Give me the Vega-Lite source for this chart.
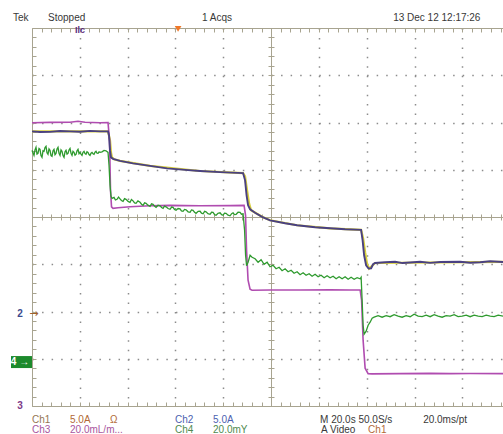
{
  "$schema": "https://vega.github.io/schema/vega-lite/v6.json",
  "width": 471,
  "height": 378,
  "autosize": {"type": "none"},
  "padding": {"left": 32, "top": 28, "right": 0, "bottom": 28},
  "background": "white",
  "config": {
    "view": {"stroke": null},
    "axis": {"labels": false, "domainColor": "#a8a490", "tickColor": "#a8a490", "gridColor": "#8c8c8c", "tickWidth": 1, "domainWidth": 1, "gridWidth": 1.5}
  },
  "resolve": {"axis": {"x": "independent", "y": "independent"}},
  "datasets": {
    "ch1": [
      {"t":0,"v":1.812},{"t":31.8,"v":1.812},{"t":32.64,"v":1.621},{"t":33.05,"v":1.368},{"t":33.47,"v":1.262},{"t":34.31,"v":1.22},{"t":36.82,"v":1.188},{"t":49.37,"v":1.082},{"t":70.29,"v":0.973},{"t":88.28,"v":0.93},{"t":89.12,"v":0.86},{"t":89.96,"v":0.565},{"t":90.79,"v":0.29},{"t":91.63,"v":0.142},{"t":96.23,"v":0.004},{"t":99.58,"v":-0.07},{"t":110.88,"v":-0.175},{"t":124.69,"v":-0.239},{"t":137.65,"v":-0.271},{"t":138.49,"v":-0.45},{"t":139.33,"v":-0.744},{"t":140.17,"v":-0.998},{"t":141.0,"v":-1.091},{"t":143.51,"v":-0.973},{"t":197,"v":-0.951}
    ],
    "ch2": [
      {"t":0,"v":1.812},{"t":3.35,"v":1.8},{"t":7.53,"v":1.801},{"t":11.72,"v":1.82},{"t":15.9,"v":1.812},{"t":20.08,"v":1.803},{"t":24.27,"v":1.822},{"t":28.45,"v":1.812},{"t":31.8,"v":1.812},{"t":32.22,"v":1.727},{"t":32.64,"v":1.41},{"t":33.05,"v":1.262},{"t":33.89,"v":1.23},{"t":36.82,"v":1.188},{"t":42.26,"v":1.135},{"t":49.37,"v":1.082},{"t":56.49,"v":1.03},{"t":64.02,"v":0.998},{"t":70.29,"v":0.973},{"t":78.66,"v":0.949},{"t":88.28,"v":0.93},{"t":89.12,"v":0.776},{"t":89.75,"v":0.459},{"t":90.37,"v":0.247},{"t":91.21,"v":0.163},{"t":93.3,"v":0.089},{"t":96.23,"v":0.004},{"t":99.58,"v":-0.07},{"t":105.86,"v":-0.133},{"t":110.88,"v":-0.175},{"t":118.41,"v":-0.218},{"t":124.69,"v":-0.239},{"t":130.96,"v":-0.26},{"t":137.65,"v":-0.271},{"t":138.28,"v":-0.493},{"t":138.91,"v":-0.81},{"t":139.74,"v":-1.021},{"t":140.79,"v":-1.091},{"t":141.84,"v":-1.085},{"t":142.67,"v":-1.0},{"t":143.51,"v":-0.973},{"t":147.69,"v":-0.958},{"t":151.88,"v":-0.947},{"t":155.0,"v":-0.975},{"t":158.16,"v":-0.964},{"t":162.34,"v":-0.947},{"t":166.5,"v":-0.97},{"t":170.71,"v":-0.953},{"t":179.08,"v":-0.947},{"t":183.3,"v":-0.968},{"t":187.44,"v":-0.958},{"t":191.63,"v":-0.937},{"t":197,"v":-0.951}
    ],
    "ch3": [
      {"t":0,"v":1.996},{"t":7.53,"v":2.002},{"t":15.9,"v":2.006},{"t":19.25,"v":2.027},{"t":22.18,"v":2.006},{"t":28.45,"v":1.996},{"t":31.8,"v":1.998},{"t":32.43,"v":1.621},{"t":32.84,"v":0.564},{"t":33.26,"v":0.216},{"t":33.89,"v":0.184},{"t":35.98,"v":0.195},{"t":41.0,"v":0.216},{"t":49.37,"v":0.237},{"t":57.74,"v":0.247},{"t":70.29,"v":0.237},{"t":82.84,"v":0.241},{"t":88.7,"v":0.247},{"t":89.32,"v":0.036},{"t":89.74,"v":-0.704},{"t":90.37,"v":-1.338},{"t":91.21,"v":-1.529},{"t":92.05,"v":-1.55},{"t":99.58,"v":-1.546},{"t":112.13,"v":-1.544},{"t":124.69,"v":-1.539},{"t":133.05,"v":-1.546},{"t":137.24,"v":-1.544},{"t":137.86,"v":-1.761},{"t":138.49,"v":-2.607},{"t":139.33,"v":-3.199},{"t":140.58,"v":-3.315},{"t":142.25,"v":-3.321},{"t":153.97,"v":-3.315},{"t":166.52,"v":-3.309},{"t":174.89,"v":-3.315},{"t":183.26,"v":-3.311},{"t":197,"v":-3.315}
    ],
    "ch4": [
      {"t":0,"v":1.41},{"t":0.42,"v":1.36},{"t":0.84,"v":1.304},{"t":1.25,"v":1.42},{"t":1.67,"v":1.474},{"t":2.09,"v":1.33},{"t":2.51,"v":1.347},{"t":2.93,"v":1.45},{"t":3.35,"v":1.431},{"t":3.76,"v":1.3},{"t":4.18,"v":1.262},{"t":4.6,"v":1.4},{"t":5.02,"v":1.389},{"t":5.44,"v":1.47},{"t":5.86,"v":1.495},{"t":6.27,"v":1.36},{"t":6.69,"v":1.326},{"t":7.11,"v":1.44},{"t":7.53,"v":1.41},{"t":7.95,"v":1.3},{"t":8.37,"v":1.283},{"t":8.79,"v":1.4},{"t":9.21,"v":1.431},{"t":9.62,"v":1.32},{"t":10.04,"v":1.347},{"t":10.46,"v":1.44},{"t":10.88,"v":1.474},{"t":11.3,"v":1.35},{"t":11.72,"v":1.304},{"t":12.13,"v":1.42},{"t":12.55,"v":1.389},{"t":12.97,"v":1.3},{"t":13.39,"v":1.262},{"t":13.81,"v":1.38},{"t":14.23,"v":1.41},{"t":14.64,"v":1.33},{"t":15.06,"v":1.347},{"t":15.48,"v":1.42},{"t":15.9,"v":1.452},{"t":16.32,"v":1.35},{"t":16.74,"v":1.304},{"t":17.15,"v":1.39},{"t":17.57,"v":1.368},{"t":17.99,"v":1.31},{"t":18.41,"v":1.326},{"t":18.83,"v":1.4},{"t":19.25,"v":1.431},{"t":19.67,"v":1.34},{"t":20.08,"v":1.368},{"t":20.5,"v":1.33},{"t":20.92,"v":1.304},{"t":21.34,"v":1.37},{"t":21.76,"v":1.389},{"t":22.18,"v":1.34},{"t":22.59,"v":1.326},{"t":23.01,"v":1.38},{"t":23.43,"v":1.368},{"t":23.85,"v":1.32},{"t":24.27,"v":1.304},{"t":24.69,"v":1.35},{"t":25.1,"v":1.368},{"t":25.52,"v":1.34},{"t":25.94,"v":1.326},{"t":26.36,"v":1.37},{"t":26.78,"v":1.389},{"t":27.2,"v":1.35},{"t":27.62,"v":1.347},{"t":28.04,"v":1.38},{"t":28.45,"v":1.368},{"t":29.29,"v":1.378},{"t":30.13,"v":1.41},{"t":30.96,"v":1.4},{"t":31.8,"v":1.368},{"t":32.22,"v":1.093},{"t":32.64,"v":0.67},{"t":33.05,"v":0.438},{"t":33.47,"v":0.395},{"t":34.31,"v":0.416},{"t":34.9,"v":0.36},{"t":35.56,"v":0.374},{"t":36.2,"v":0.42},{"t":36.82,"v":0.385},{"t":37.4,"v":0.35},{"t":38.08,"v":0.332},{"t":38.7,"v":0.39},{"t":39.33,"v":0.374},{"t":40.2,"v":0.33},{"t":41.0,"v":0.311},{"t":41.6,"v":0.37},{"t":42.26,"v":0.342},{"t":42.9,"v":0.3},{"t":43.51,"v":0.29},{"t":44.3,"v":0.34},{"t":45.19,"v":0.311},{"t":45.8,"v":0.27},{"t":46.44,"v":0.247},{"t":47.1,"v":0.3},{"t":47.7,"v":0.29},{"t":48.5,"v":0.25},{"t":49.37,"v":0.226},{"t":50.0,"v":0.28},{"t":50.63,"v":0.269},{"t":51.2,"v":0.23},{"t":51.88,"v":0.205},{"t":52.7,"v":0.25},{"t":53.56,"v":0.237},{"t":54.2,"v":0.2},{"t":54.81,"v":0.184},{"t":55.4,"v":0.23},{"t":56.07,"v":0.216},{"t":56.9,"v":0.18},{"t":57.74,"v":0.163},{"t":58.4,"v":0.21},{"t":59.0,"v":0.205},{"t":59.6,"v":0.16},{"t":60.25,"v":0.142},{"t":61.1,"v":0.18},{"t":61.92,"v":0.173},{"t":62.5,"v":0.13},{"t":63.18,"v":0.121},{"t":63.8,"v":0.16},{"t":64.44,"v":0.152},{"t":65.3,"v":0.11},{"t":66.11,"v":0.099},{"t":66.7,"v":0.15},{"t":67.36,"v":0.142},{"t":68.0,"v":0.1},{"t":68.62,"v":0.078},{"t":69.5,"v":0.12},{"t":70.29,"v":0.121},{"t":70.9,"v":0.08},{"t":71.55,"v":0.068},{"t":72.2,"v":0.12},{"t":72.8,"v":0.11},{"t":73.6,"v":0.07},{"t":74.48,"v":0.057},{"t":75.1,"v":0.1},{"t":75.73,"v":0.099},{"t":76.4,"v":0.05},{"t":76.99,"v":0.036},{"t":77.8,"v":0.08},{"t":78.66,"v":0.089},{"t":79.3,"v":0.05},{"t":79.92,"v":0.036},{"t":80.5,"v":0.08},{"t":81.17,"v":0.078},{"t":82.0,"v":0.04},{"t":82.84,"v":0.025},{"t":83.5,"v":0.07},{"t":84.1,"v":0.089},{"t":84.7,"v":0.05},{"t":85.36,"v":0.057},{"t":86.2,"v":0.1},{"t":87.03,"v":0.099},{"t":87.6,"v":0.06},{"t":88.28,"v":0.068},{"t":88.91,"v":-0.281},{"t":89.33,"v":-0.81},{"t":89.75,"v":-1.032},{"t":90.38,"v":-0.958},{"t":91.21,"v":-0.81},{"t":92.05,"v":-0.852},{"t":93.31,"v":-0.884},{"t":94.56,"v":-0.958},{"t":95.82,"v":-0.905},{"t":97.08,"v":-1.0},{"t":98.33,"v":-0.958},{"t":99.58,"v":-1.053},{"t":100.84,"v":-1.021},{"t":102.09,"v":-1.095},{"t":103.35,"v":-1.063},{"t":104.6,"v":-1.137},{"t":105.86,"v":-1.095},{"t":107.11,"v":-1.159},{"t":108.37,"v":-1.127},{"t":109.62,"v":-1.19},{"t":110.88,"v":-1.159},{"t":112.13,"v":-1.222},{"t":113.39,"v":-1.18},{"t":114.64,"v":-1.233},{"t":115.9,"v":-1.201},{"t":117.15,"v":-1.254},{"t":118.41,"v":-1.211},{"t":119.67,"v":-1.264},{"t":120.92,"v":-1.233},{"t":122.18,"v":-1.285},{"t":123.43,"v":-1.243},{"t":124.69,"v":-1.285},{"t":125.94,"v":-1.254},{"t":127.2,"v":-1.307},{"t":128.45,"v":-1.264},{"t":129.71,"v":-1.307},{"t":130.96,"v":-1.264},{"t":132.22,"v":-1.317},{"t":133.47,"v":-1.275},{"t":134.73,"v":-1.317},{"t":135.98,"v":-1.285},{"t":137.24,"v":-1.307},{"t":137.66,"v":-1.275},{"t":138.08,"v":-1.761},{"t":138.49,"v":-2.29},{"t":138.91,"v":-2.48},{"t":139.75,"v":-2.417},{"t":140.59,"v":-2.29},{"t":141.42,"v":-2.226},{"t":142.26,"v":-2.142},{"t":143.1,"v":-2.121},{"t":144.77,"v":-2.089},{"t":146.44,"v":-2.121},{"t":148.12,"v":-2.089},{"t":149.79,"v":-2.11},{"t":151.46,"v":-2.068},{"t":153.14,"v":-2.099},{"t":154.81,"v":-2.121},{"t":156.49,"v":-2.089},{"t":158.16,"v":-2.11},{"t":159.83,"v":-2.057},{"t":161.51,"v":-2.099},{"t":163.18,"v":-2.11},{"t":164.85,"v":-2.078},{"t":166.53,"v":-2.11},{"t":168.2,"v":-2.068},{"t":169.87,"v":-2.099},{"t":171.55,"v":-2.121},{"t":173.22,"v":-2.089},{"t":174.9,"v":-2.099},{"t":176.57,"v":-2.068},{"t":178.24,"v":-2.11},{"t":179.92,"v":-2.099},{"t":181.59,"v":-2.078},{"t":183.26,"v":-2.11},{"t":184.94,"v":-2.078},{"t":186.61,"v":-2.099},{"t":188.28,"v":-2.11},{"t":189.96,"v":-2.078},{"t":191.63,"v":-2.099},{"t":193.3,"v":-2.11},{"t":194.98,"v":-2.078},{"t":197,"v":-2.099}
    ],
    "labels": [
      {"txt":"Tek","t":-7.95,"v":4.22,"c":"sys"},
      {"txt":"Stopped","t":6.69,"v":4.22,"c":"sys"},
      {"txt":"1 Acqs","t":71.13,"v":4.22,"c":"sys"},
      {"txt":"13 Dec 12 12:17:26","t":151.05,"v":4.22,"c":"sys"},
      {"txt":"Ch1","t":0,"v":-4.3,"c":"ch1"},
      {"txt":"5.0A","t":15.9,"v":-4.3,"c":"ch1v"},
      {"txt":"Ω","t":32.64,"v":-4.3,"c":"ch1v"},
      {"txt":"Ch2","t":59.83,"v":-4.3,"c":"ch2"},
      {"txt":"5.0A","t":75.73,"v":-4.3,"c":"ch2"},
      {"txt":"M 20.0s 50.0S/s","t":120.5,"v":-4.3,"c":"sys"},
      {"txt":"20.0ms/pt","t":163.6,"v":-4.3,"c":"sys"},
      {"txt":"Ch3","t":0,"v":-4.51,"c":"ch3"},
      {"txt":"20.0mL/m...","t":15.9,"v":-4.51,"c":"ch3"},
      {"txt":"Ch4","t":59.83,"v":-4.51,"c":"ch4"},
      {"txt":"20.0mY","t":75.73,"v":-4.51,"c":"ch4"},
      {"txt":"A Video","t":120.92,"v":-4.51,"c":"sys"},
      {"txt":"Ch1","t":140.58,"v":-4.51,"c":"ch1v"}
    ],
    "levels": [
      {"ch":"2","level":-2.05,"label":"2","c":"m2"},
      {"ch":"4","level":-3.07,"label":"4 →","c":"white"},
      {"ch":"3","level":-4.0,"label":"3","c":"m3"}
    ],
    "refs": [
      {"kind":"time ref","t":18.0,"label":"Ilc"},
      {"kind":"trigger","t":61.1,"label":""}
    ]
  },
  "layer": [
    {
      "data": {"name": "ch1"},
      "mark": {"type": "line", "color": "#d8cf3c", "strokeWidth": 2.2},
      "encoding": {
        "x": {"field": "t", "type": "quantitative", "scale": {"domain": [0, 197], "nice": false, "zero": false},
          "axis": {"orient": "bottom", "values": [20,40,60,80,120,140,160,180], "grid": true, "gridDash": [1.5, 7.95], "ticks": false, "labels": false, "domain": false, "title": null}},
        "y": {"field": "v", "type": "quantitative", "scale": {"domain": [-4, 4], "nice": false, "zero": false},
          "axis": {"orient": "left", "values": [-3,-2,-1,1,2,3], "grid": true, "gridDash": [1.5, 8.06], "ticks": false, "labels": false, "domain": false, "title": null}}
      }
    },
    {
      "data": {"name": "ch3"},
      "mark": {"type": "line", "color": "#b04cb0", "strokeWidth": 1.6},
      "encoding": {
        "x": {"field": "t", "type": "quantitative",
          "axis": {"orient": "bottom", "values": [0,4,8,12,16,20,24,28,32,36,40,44,48,52,56,60,64,68,72,76,80,84,88,92,96,100,104,108,112,116,120,124,128,132,136,140,144,148,152,156,160,164,168,172,176,180,184,188,192,196], "grid": false, "tickSize": -4, "labels": false, "domain": true, "title": null}},
        "y": {"field": "v", "type": "quantitative",
          "axis": {"orient": "left", "values": [-4,-3.8,-3.6,-3.4,-3.2,-3,-2.8,-2.6,-2.4,-2.2,-2,-1.8,-1.6,-1.4,-1.2,-1,-0.8,-0.6,-0.4,-0.2,0,0.2,0.4,0.6,0.8,1,1.2,1.4,1.6,1.8,2,2.2,2.4,2.6,2.8,3,3.2,3.4,3.6,3.8,4], "grid": false, "tickSize": -4, "labels": false, "domain": true, "title": null}}
      }
    },
    {
      "data": {"name": "ch4"},
      "mark": {"type": "line", "color": "#2e9a2e", "strokeWidth": 1.3},
      "encoding": {
        "x": {"field": "t", "type": "quantitative",
          "axis": {"orient": "top", "values": [0,4,8,12,16,20,24,28,32,36,40,44,48,52,56,60,64,68,72,76,80,84,88,92,96,100,104,108,112,116,120,124,128,132,136,140,144,148,152,156,160,164,168,172,176,180,184,188,192,196], "grid": false, "tickSize": -4, "labels": false, "domain": true, "title": null}},
        "y": {"field": "v", "type": "quantitative",
          "axis": {"orient": "left", "offset": -239, "values": [-4,-3.8,-3.6,-3.4,-3.2,-3,-2.8,-2.6,-2.4,-2.2,-2,-1.8,-1.6,-1.4,-1.2,-1,-0.8,-0.6,-0.4,-0.2,0,0.2,0.4,0.6,0.8,1,1.2,1.4,1.6,1.8,2,2.2,2.4,2.6,2.8,3,3.2,3.4,3.6,3.8,4], "grid": false, "tickSize": 3, "labels": false, "domain": true, "title": null}}
      }
    },
    {
      "data": {"name": "ch2"},
      "mark": {"type": "line", "color": "#4a4182", "strokeWidth": 1.9},
      "encoding": {
        "x": {"field": "t", "type": "quantitative",
          "axis": {"orient": "bottom", "offset": -189, "values": [0,4,8,12,16,20,24,28,32,36,40,44,48,52,56,60,64,68,72,76,80,84,88,92,96,100,104,108,112,116,120,124,128,132,136,140,144,148,152,156,160,164,168,172,176,180,184,188,192,196], "grid": false, "tickSize": 3, "labels": false, "domain": true, "title": null}},
        "y": {"field": "v", "type": "quantitative",
          "axis": {"orient": "left", "offset": -239, "values": [-4,-3.8,-3.6,-3.4,-3.2,-3,-2.8,-2.6,-2.4,-2.2,-2,-1.8,-1.6,-1.4,-1.2,-1,-0.8,-0.6,-0.4,-0.2,0,0.2,0.4,0.6,0.8,1,1.2,1.4,1.6,1.8,2,2.2,2.4,2.6,2.8,3,3.2,3.4,3.6,3.8,4], "grid": false, "tickSize": -3, "labels": false, "domain": false, "title": null}}
      }
    },
    {
      "data": {"name": "labels"},
      "mark": {"type": "text", "align": "left", "baseline": "middle", "font": "Liberation Sans", "fontSize": 10},
      "encoding": {
        "x": {"field": "t", "type": "quantitative",
          "axis": {"orient": "bottom", "offset": -189, "values": [0,4,8,12,16,20,24,28,32,36,40,44,48,52,56,60,64,68,72,76,80,84,88,92,96,100,104,108,112,116,120,124,128,132,136,140,144,148,152,156,160,164,168,172,176,180,184,188,192,196], "grid": false, "tickSize": -3, "labels": false, "domain": false, "title": null}},
        "y": {"field": "v", "type": "quantitative", "axis": null},
        "text": {"field": "txt"},
        "color": {"field": "c", "type": "nominal", "legend": null,
          "scale": {"domain": ["sys","ch1","ch1v","ch2","ch3","ch4","m2","m3","white"], "range": ["#383838","#957652","#b26a36","#4d5fb0","#a8559e","#4f8a4f","#3b4a8e","#7d3a88","#ffffff"]}}
      }
    },
    {
      "data": {"name": "levels"},
      "transform": [{"filter": "datum.ch === '4'"}],
      "mark": {"type": "point", "shape": "M-1.05,-0.6H1.05V0.6H-1.05Z", "filled": true, "opacity": 1, "color": "#1c8a2c", "size": 400},
      "encoding": {
        "x": {"datum": -4.4, "type": "quantitative", "axis": null},
        "y": {"field": "level", "type": "quantitative", "axis": null}
      }
    },
    {
      "data": {"name": "levels"},
      "mark": {"type": "text", "align": "center", "baseline": "middle", "font": "Liberation Sans", "fontSize": 10, "fontWeight": "bold"},
      "encoding": {
        "x": {"datum": -5, "type": "quantitative", "axis": null},
        "y": {"field": "level", "type": "quantitative", "axis": null},
        "text": {"field": "label"},
        "color": {"field": "c", "type": "nominal", "legend": null,
          "scale": {"domain": ["sys","ch1","ch1v","ch2","ch3","ch4","m2","m3","white"], "range": ["#383838","#957652","#b26a36","#4d5fb0","#a8559e","#4f8a4f","#3b4a8e","#7d3a88","#ffffff"]}}
      }
    },
    {
      "data": {"name": "levels"},
      "transform": [{"filter": "datum.ch === '2'"}],
      "mark": {"type": "text", "align": "center", "baseline": "middle", "font": "DejaVu Sans", "fontSize": 11, "color": "#a0602a", "text": "→"},
      "encoding": {
        "x": {"datum": 0.8, "type": "quantitative", "axis": null},
        "y": {"field": "level", "type": "quantitative", "axis": null}
      }
    },
    {
      "data": {"name": "refs"},
      "transform": [{"filter": "datum.kind === 'time ref'"}],
      "mark": {"type": "text", "align": "left", "baseline": "middle", "font": "Liberation Sans", "fontSize": 9, "fontWeight": "bold", "color": "#5b2d7a"},
      "encoding": {
        "x": {"field": "t", "type": "quantitative", "axis": null},
        "y": {"datum": 3.95, "type": "quantitative", "axis": null},
        "text": {"field": "label"}
      }
    },
    {
      "data": {"name": "refs"},
      "transform": [{"filter": "datum.kind === 'trigger'"}],
      "mark": {"type": "point", "shape": "triangle-down", "filled": true, "opacity": 1, "color": "#f07828", "size": 45},
      "encoding": {
        "x": {"field": "t", "type": "quantitative", "axis": null},
        "y": {"datum": 3.98, "type": "quantitative", "axis": null}
      }
    }
  ]
}
